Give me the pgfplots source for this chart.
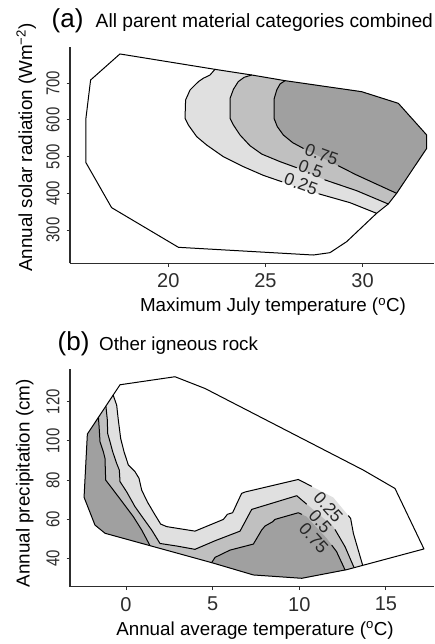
\documentclass[border=0pt]{standalone}
\usepackage{pgfplots}
\pgfplotsset{compat=1.18}
\usepackage{fontspec}
\setmainfont{Liberation Sans}
\definecolor{lg}{RGB}{224,224,224}
\definecolor{mg}{RGB}{192,192,192}
\definecolor{dg}{RGB}{160,160,160}
\definecolor{axc}{RGB}{45,45,45}
\newcommand{\basefont}{\fontsize{18.8}{22}\selectfont}
\tikzset{
  clab/.style={font=\fontsize{17.5}{20}\selectfont, text=black!85, inner sep=0pt},
  fillp/.style={draw=none, fill=#1},
  cline/.style={black, line width=1pt, line join=round, line cap=round},
}
\pgfplotsset{
  myax/.style={
    scale only axis, width=364pt,
    axis x line*=bottom, axis y line*=left,
    axis line style={-, axc, line width=1.2pt},
    every outer x axis line/.append style={-},
    every outer y axis line/.append style={-},
    tick align=outside, major tick length=3.5pt,
    tick style={axc, line width=1pt},
    /pgf/number format/assume math mode=true,
    /pgf/number format/1000 sep={},
    xticklabel style={font=\fontsize{20}{24}\selectfont, text=axc, inner sep=0pt, anchor=north, yshift=-6.7pt},
    yticklabel style={font=\fontsize{18.6}{22}\selectfont, text=axc, inner sep=0pt, xshift=-6.7pt, rotate=90, xscale=0.8, anchor=south},
    enlargelimits=false, clip=false,
  },
}
\begin{document}
\begin{tikzpicture}
\path[use as bounding box] (0pt,0pt) rectangle (434pt,-644pt);
% ---------------- panel (a)
\begin{axis}[myax, at={(70pt,-263.3pt)}, anchor=south west, height=216.3pt,
  xmin=14.94, xmax=33.675, ymin=209.2, ymax=799,
  xtick={20,25,30}, ytick={300,400,500,600,700}]
% hull fill
\addplot[fillp=white] coordinates {(17.51,780.0) (22.40,738.1) (24.29,722.7) (26.01,707.2) (29.95,677.2) (31.84,645.4) (33.30,559) (33.30,522.7) (31.75,400) (31.32,370.9) (30.72,345.5) (29.18,268.2) (28.32,238.2) (27.46,231.8) (20.52,252.8) (17.08,361) (15.76,483.7) (15.76,604.6) (16.0,709)};
% >= 0.25
\addplot[fillp=lg] coordinates {(22.40,738.1) (22.15,722.8) (21.80,713.7) (21.55,704.6) (21.12,681.9) (20.89,654.6) (20.86,604.6) (21.03,586.4) (21.46,554.6) (21.97,531.9) (22.83,500) (23.86,472.8) (24.89,449) (25.92,430) (27.64,400) (29.35,374.5) (30.72,345.5) (31.32,370.9) (31.75,400) (33.30,522.7) (33.30,559) (31.84,645.4) (29.95,677.2) (26.01,707.2) (24.29,722.7)};
% >= 0.5
\addplot[fillp=mg] coordinates {(24.29,722.7) (23.90,716.3) (23.60,704.5) (23.35,683.6) (23.18,659.1) (23.18,604.5) (23.35,586.4) (23.69,559.1) (24.20,530) (24.81,507) (25.75,486.4) (26.69,468.2) (28.15,434.5) (29.69,407.3) (31.32,370.9) (31.75,400) (33.30,522.7) (33.30,559) (31.84,645.4) (29.95,677.2) (26.01,707.2)};
% >= 0.75
\addplot[fillp=dg] coordinates {(26.01,707.2) (25.75,698.2) (25.58,681.8) (25.44,656.3) (25.44,604.5) (25.61,581.8) (25.92,559.1) (26.40,538.2) (27.04,520) (28.32,486.4) (29.69,450) (31.75,400) (33.30,522.7) (33.30,559) (31.84,645.4) (29.95,677.2)};
% contour lines
\addplot[cline] coordinates {(22.40,738.1) (22.15,722.8) (21.80,713.7) (21.55,704.6) (21.12,681.9) (20.89,654.6) (20.86,604.6) (21.03,586.4) (21.46,554.6) (21.97,531.9) (22.83,500) (23.86,472.8) (24.89,449) (25.85,431.5)};
\addplot[cline] coordinates {(27.75,398.5) (29.35,374.5) (30.72,345.5)};
\addplot[cline] coordinates {(24.29,722.7) (23.90,716.3) (23.60,704.5) (23.35,683.6) (23.18,659.1) (23.18,604.5) (23.35,586.4) (23.69,559.1) (24.20,530) (24.81,507) (25.75,486.4) (26.60,470)};
\addplot[cline] coordinates {(28.05,436.8) (29.69,407.3) (31.32,370.9)};
\addplot[cline] coordinates {(26.01,707.2) (25.75,698.2) (25.58,681.8) (25.44,656.3) (25.44,604.5) (25.61,581.8) (25.92,559.1) (26.40,538.2) (26.95,522.5)};
\addplot[cline] coordinates {(28.75,475) (29.69,450) (31.75,400)};
% hull outline
\addplot[cline] coordinates {(17.51,780.0) (22.40,738.1) (24.29,722.7) (26.01,707.2) (29.95,677.2) (31.84,645.4) (33.30,559) (33.30,522.7) (31.75,400) (31.32,370.9) (30.72,345.5) (29.18,268.2) (28.32,238.2) (27.46,231.8) (20.52,252.8) (17.08,361) (15.76,483.7) (15.76,604.6) (16.0,709) (17.51,780.0)};
\node[clab, rotate=-20] at (axis cs:27.89,506.3) {0.75};
\node[clab, rotate=-20] at (axis cs:27.33,466) {0.5};
\node[clab, rotate=-20] at (axis cs:26.83,425.5) {0.25};
\end{axis}
% ---------------- panel (b)
\begin{axis}[myax, at={(70pt,-586.7pt)}, anchor=south west, height=217.4pt,
  xmin=-3.231, xmax=17.77, ymin=25.5, ymax=136.6,
  xtick={0,5,10,15}, ytick={40,60,80,100,120}]
\addplot[fillp=white] coordinates {(-0.346,128.7) (2.827,132.8) (4.558,126.8) (13.69,85.1) (15.52,75.7) (17.19,44.8) (12.73,34.2) (10.14,29.8) (7.35,31.5) (4.94,37.8) (-1.21,52.8) (-1.79,57.0) (-2.42,71.2) (-2.23,103.5)};
% >= 0.25
\addplot[fillp=lg] coordinates {(-0.74,123.4) (-0.538,118.3) (-0.443,110.7) (-0.308,101.3) (-0.115,94.5) (0.135,87.7) (0.519,84.3) (0.750,80.9) (0.904,74.9) (1.23,68.9) (1.62,63.0) (2.00,57.5) (2.35,56.2) (3.98,53.9) (5.62,59.9) (5.85,62.5) (6.15,63.3) (6.67,73.2) (6.87,73.9) (9.94,80.3) (11.96,71.1) (12.96,60.4) (13.12,52.7) (13.65,36.6) (12.73,34.2) (10.14,29.8) (7.35,31.5) (4.94,37.8) (-1.21,52.8) (-1.79,57.0) (-2.42,71.2) (-2.23,103.5)};
% >= 0.5
\addplot[fillp=mg] coordinates {(-1.16,117.8) (-1.077,110.7) (-1.058,103.8) (-0.923,99.6) (-0.769,94.5) (-0.538,88.5) (-0.385,85.1) (-0.346,79.2) (0.038,74.0) (0.519,66.4) (1.0,60.4) (1.48,54.5) (1.96,47.6) (2.92,46.3) (3.98,44.6) (5.14,49.0) (6.58,53.9) (7.25,65.0) (9.85,72.0) (11.96,56.2) (12.64,45.9) (13.15,35.4) (12.73,34.2) (10.14,29.8) (7.35,31.5) (4.94,37.8) (-1.21,52.8) (-1.79,57.0) (-2.42,71.2) (-2.23,103.5)};
% >= 0.75 (two parts)
\addplot[fillp=dg] coordinates {(-1.59,112.0) (-1.539,105.5) (-1.500,99.6) (-1.308,94.5) (-1.212,91.1) (-1.173,80.0) (-0.731,74.9) (-0.154,68.1) (0.423,61.3) (0.904,54.5) (1.385,46.5) (-1.21,52.8) (-1.79,57.0) (-2.42,71.2) (-2.23,103.5)};
\addplot[fillp=dg] coordinates {(4.94,37.8) (5.14,40.5) (6.0,44.2) (7.35,47.3) (7.83,54.5) (8.02,56.5) (8.46,58.7) (8.60,59.9) (9.94,63.3) (10.42,61.3) (11.58,50.2) (12.15,43.4) (12.64,34.05) (10.14,29.8) (7.35,31.5)};
% contour lines
\addplot[cline] coordinates {(-0.74,123.4) (-0.538,118.3) (-0.443,110.7) (-0.308,101.3) (-0.115,94.5) (0.135,87.7) (0.519,84.3) (0.750,80.9) (0.904,74.9) (1.23,68.9) (1.62,63.0) (2.00,57.5) (2.35,56.2) (3.98,53.9) (5.62,59.9) (5.85,62.5) (6.15,63.3) (6.67,73.2) (6.87,73.9) (9.94,80.3) (10.71,76.8)};
\addplot[cline] coordinates {(12.83,61.8) (12.96,60.4) (13.12,52.7) (13.65,36.6)};
\addplot[cline] coordinates {(-1.16,117.8) (-1.077,110.7) (-1.058,103.8) (-0.923,99.6) (-0.769,94.5) (-0.538,88.5) (-0.385,85.1) (-0.346,79.2) (0.038,74.0) (0.519,66.4) (1.0,60.4) (1.48,54.5) (1.96,47.6) (2.92,46.3) (3.98,44.6) (5.14,49.0) (6.58,53.9) (7.25,65.0) (9.85,72.0) (10.42,67.7)};
\addplot[cline] coordinates {(12.06,54.7) (12.64,45.9) (13.15,35.4)};
\addplot[cline] coordinates {(-1.59,112.0) (-1.539,105.5) (-1.500,99.6) (-1.308,94.5) (-1.212,91.1) (-1.173,80.0) (-0.731,74.9) (-0.154,68.1) (0.423,61.3) (0.904,54.5) (1.385,46.5)};
\addplot[cline] coordinates {(4.94,37.8) (5.14,40.5) (6.0,44.2) (7.35,47.3) (7.83,54.5) (8.02,56.5) (8.46,58.7) (8.60,59.9) (9.94,63.3) (10.14,62.5)};
\addplot[cline] coordinates {(11.87,46.7) (12.15,43.4) (12.64,34.05)};
\addplot[cline] coordinates {(-0.346,128.7) (2.827,132.8) (4.558,126.8) (13.69,85.1) (15.52,75.7) (17.19,44.8) (12.73,34.2) (10.14,29.8) (7.35,31.5) (4.94,37.8) (-1.21,52.8) (-1.79,57.0) (-2.42,71.2) (-2.23,103.5) (-0.346,128.7)};
\node[clab, rotate=-48] at (axis cs:11.67,66.2) {0.25};
\node[clab, rotate=-48] at (axis cs:11.21,58.9) {0.5};
\node[clab, rotate=-48] at (axis cs:10.83,50.5) {0.75};
\end{axis}
% ---------------- titles and axis titles
\node[anchor=base west, inner sep=0pt, font=\fontsize{26}{30}\selectfont] at (51.5pt,-27.5pt) {(a)};
\node[anchor=base west, inner sep=0pt, font=\fontsize{19.2}{23}\selectfont] at (95.5pt,-27.5pt) {All parent material categories combined};
\node[anchor=base, inner sep=0pt, font=\basefont] at (273pt,-311.7pt) {Maximum July temperature (\textsuperscript{o}C)};
\node[anchor=base, inner sep=0pt, font=\basefont, rotate=90] at (32pt,-147.5pt) {Annual solar radiation (Wm\textsuperscript{−2})};
\node[anchor=base west, inner sep=0pt, font=\fontsize{26}{30}\selectfont] at (57.5pt,-350pt) {(b)};
\node[anchor=base west, inner sep=0pt, font=\basefont] at (99pt,-350pt) {Other igneous rock};
\node[anchor=base, inner sep=0pt, font=\basefont] at (255pt,-635pt) {Annual average temperature (\textsuperscript{o}C)};
\node[anchor=base, inner sep=0pt, font=\basefont, rotate=90] at (29.5pt,-483.3pt) {Annual precipitation (cm)};
\end{tikzpicture}
\end{document}
